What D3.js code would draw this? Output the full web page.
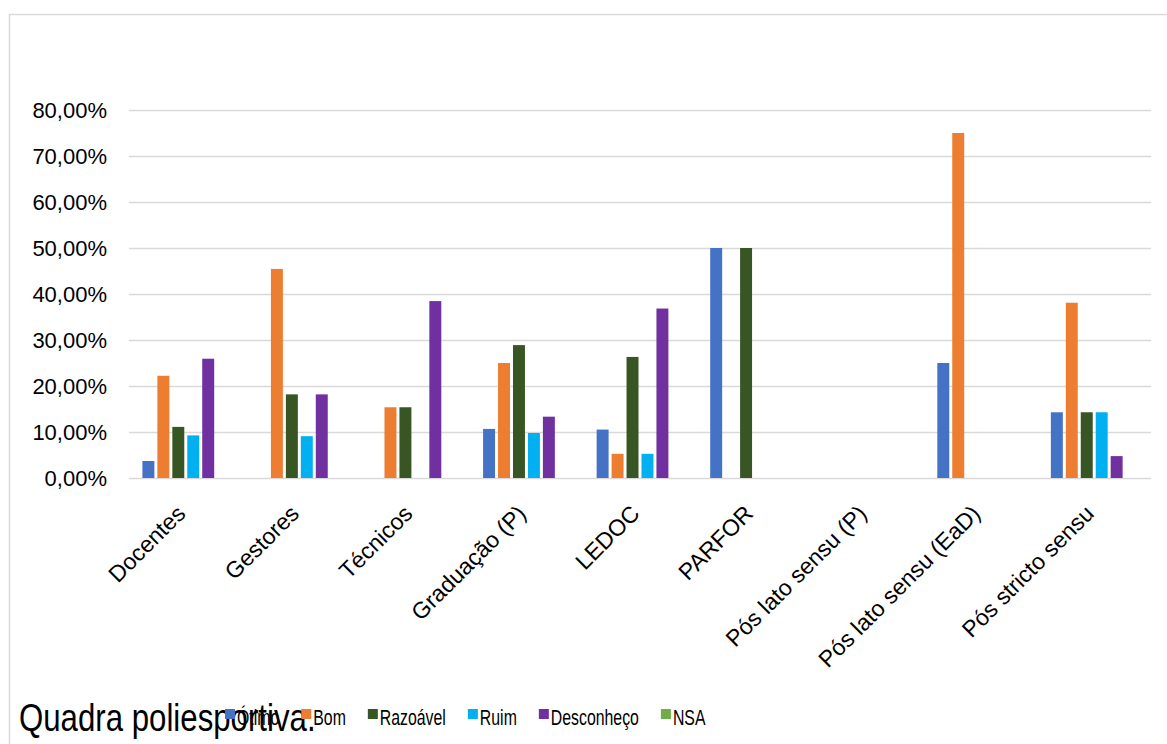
<!DOCTYPE html>
<html>
<head>
<meta charset="utf-8">
<script src="https://cdn.jsdelivr.net/npm/d3@7"></script>
<style>
    body { margin: 0; background: #fff; }
    svg { display: block; font-family: "Liberation Sans", Arial, sans-serif; }
</style>
</head>
<body>
<div id="chart"></div>
<script>

// categories on the x axis
var categorias = ["Docentes", "Gestores", "Técnicos", "Graduação (P)", "LEDOC",
    "PARFOR", "Pós lato sensu (P)", "Pós lato sensu (EaD)", "Pós stricto sensu"];

// series values, in percent
var otimo      = [3.70, 0, 0, 10.67, 10.53, 50, 0, 25, 14.29];
var bom        = [22.22, 45.45, 15.38, 25.00, 5.26, 0, 0, 75, 38.10];
var razoavel   = [11.11, 18.18, 15.38, 28.89, 26.32, 50, 0, 0, 14.29];
var ruim       = [9.26, 9.09, 0, 9.78, 5.26, 0, 0, 0, 14.29];
var desconheco = [25.93, 18.18, 38.46, 13.33, 36.84, 0, 0, 0, 4.76];
var nsa        = [0, 0, 0, 0, 0, 0, 0, 0, 0];

var nomesSeries = ["Ótimo", "Bom", "Razoável", "Ruim", "Desconheço", "NSA"];
var valoresSeries = [otimo, bom, razoavel, ruim, desconheco, nsa];
var cores = ["#4472C4", "#ED7D31", "#375623", "#00B0F0", "#7030A0", "#70AD47"];

var yTicks = [0, 10, 20, 30, 40, 50, 60, 70, 80];

var titulo = "Quadra poliesportiva.";

// note: "top" is taken by window.top, so plot edges get their own names
var width = 1167,
    height = 744,
    plotLeft = 129,
    plotRight = 1151,
    plotTop = 110,
    plotBottom = 478;

var svg = d3.select("#chart").append("svg")
    .attr("width", width)
    .attr("height", height);

// chart area border (runs off the right and bottom of the picture)
svg.append("rect")
    .attr("x", 9.5)
    .attr("y", 14.5)
    .attr("width", 1300)
    .attr("height", 900)
    .attr("fill", "none")
    .attr("stroke", "#d9d9d9")
    .attr("stroke-width", 1.5);

var x0 = d3.scaleBand()
    .domain(categorias)
    .range([plotLeft, plotRight])
    .paddingInner(0.21)
    .paddingOuter(0.105);

var x1 = d3.scaleBand()
    .domain(nomesSeries)
    .range([0, x0.bandwidth()])
    .paddingInner(0.2)
    .paddingOuter(0.1);

var y = d3.scaleLinear()
    .domain([0, 80])
    .range([plotBottom, plotTop]);

var br = d3.formatLocale({decimal: ",", thousands: ".", grouping: [3], currency: ["R$", ""]});
var pct = br.format(".2%");

// y axis + gridlines
var yAxis = svg.append("g")
    .attr("transform", "translate(" + plotLeft + ",0)")
    .call(d3.axisLeft(y)
        .tickValues(yTicks)
        .tickSize(-(plotRight - plotLeft))
        .tickPadding(22)
        .tickFormat(function (d) { return pct(d / 100); }));

yAxis.select(".domain").remove();
yAxis.selectAll("line")
    .attr("stroke", "#d9d9d9")
    .attr("stroke-width", 1.5);
yAxis.selectAll("text")
    .attr("fill", "#000")
    .style("font-size", "22px");

// bars
var grupos = svg.append("g")
    .selectAll("g")
    .data(categorias)
    .enter().append("g")
    .attr("transform", function (d) { return "translate(" + x0(d) + ",0)"; });

grupos.selectAll("rect")
    .data(function (d, i) {
        return nomesSeries.map(function (s, j) {
            return {serie: s, valor: valoresSeries[j][i], cor: cores[j]};
        });
    })
    .enter().append("rect")
    .attr("x", function (d) { return x1(d.serie); })
    .attr("y", function (d) { return y(d.valor); })
    .attr("width", x1.bandwidth())
    .attr("height", function (d) { return plotBottom - y(d.valor); })
    .attr("fill", function (d) { return d.cor; });

// x axis labels, rotated
var xAxis = svg.append("g")
    .attr("transform", "translate(0," + plotBottom + ")")
    .call(d3.axisBottom(x0).tickSize(0));

xAxis.select(".domain").remove();
xAxis.selectAll("text")
    .attr("x", 0)
    .attr("y", 0)
    .attr("dy", 0)
    .attr("fill", "#000")
    .style("font-size", "23px")
    .style("text-anchor", "end")
    .attr("transform", "translate(1,37) rotate(-45)");

// title (drawn squeezed, like the original)
var t = svg.append("text")
    .attr("x", 19)
    .attr("y", 731)
    .attr("fill", "#000")
    .style("font-size", "39px")
    .text(titulo);
t.attr("textLength", t.node().getComputedTextLength() * 0.8)
    .attr("lengthAdjust", "spacingAndGlyphs");

// legend, also squeezed
var legenda = svg.append("g");
var lx = 225;
nomesSeries.forEach(function (nome, j) {
    legenda.append("rect")
        .attr("x", lx)
        .attr("y", 709)
        .attr("width", 10)
        .attr("height", 10)
        .attr("fill", cores[j]);
    var txt = legenda.append("text")
        .attr("x", lx + 12)
        .attr("y", 725)
        .attr("fill", "#000")
        .style("font-size", "22px")
        .text(nome);
    var w = txt.node().getComputedTextLength() * 0.72;
    txt.attr("textLength", w).attr("lengthAdjust", "spacingAndGlyphs");
    lx = lx + 12 + w + 22;
});

</script>
</body>
</html>
